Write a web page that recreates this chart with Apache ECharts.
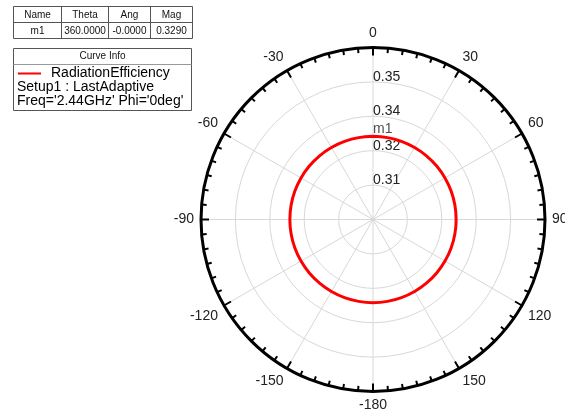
<!DOCTYPE html>
<html>
<head>
<meta charset="utf-8">
<script src="https://cdn.jsdelivr.net/npm/echarts@6/dist/echarts.min.js"></script>
<style>
  html, body { margin: 0; padding: 0; background: #fff; }
  #chart { width: 565px; height: 415px; }
</style>
</head>
<body>
<div id="chart"></div>
<script>
// Radiation efficiency vs. theta (degrees), Phi = 0deg cut
const thetaDeg = [0, 10, 20, 30, 40, 50, 60, 70, 80, 90, 100, 110, 120, 130, 140, 150, 160, 170, 180,
                  190, 200, 210, 220, 230, 240, 250, 260, 270, 280, 290, 300, 310, 320, 330, 340, 350, 360];
const radiationEfficiency = [0.329, 0.329, 0.329, 0.329, 0.329, 0.329, 0.329, 0.329, 0.329, 0.329,
                             0.329, 0.329, 0.329, 0.329, 0.329, 0.329, 0.329, 0.329, 0.329, 0.329,
                             0.329, 0.329, 0.329, 0.329, 0.329, 0.329, 0.329, 0.329, 0.329, 0.329,
                             0.329, 0.329, 0.329, 0.329, 0.329, 0.329, 0.329];

// Marker m1
const markerName = 'm1';
const markerTheta = 360;
const markerMag = 0.329;
const markerHeaders = ['Name', 'Theta', 'Ang', 'Mag'];
const markerCells = ['m1', '360.0000', '-0.0000', '0.3290'];

// Curve info legend
const curveName = 'RadiationEfficiency';
const curveInfoLines = ['Setup1 : LastAdaptive', "Freq='2.44GHz' Phi='0deg'"];

// Radial scale
const radiusMin = 0.30;
const radiusMax = 0.36;
const radiusStep = 0.012;

const FONT = "'Liberation Sans', Arial, sans-serif";
const CENTER = [373, 219.5];
const RADIUS = 172;

// --- tables drawn as graphic elements ---
const graphics = [];
const colX = [13.5, 61.5, 108.5, 150.5, 192.5];
const rowY = [6.5, 22.5, 38.5];
graphics.push({ type: 'rect', shape: { x: colX[0], y: rowY[0], width: colX[4] - colX[0], height: rowY[2] - rowY[0] },
  style: { fill: '#fff', stroke: '#555', lineWidth: 1 } });
graphics.push({ type: 'line', shape: { x1: colX[0], y1: rowY[1], x2: colX[4], y2: rowY[1] }, style: { stroke: '#555', lineWidth: 1 } });
for (let i = 1; i < 4; i++) {
  graphics.push({ type: 'line', shape: { x1: colX[i], y1: rowY[0], x2: colX[i], y2: rowY[2] }, style: { stroke: '#555', lineWidth: 1 } });
}
for (let i = 0; i < 4; i++) {
  const cx = (colX[i] + colX[i + 1]) / 2;
  graphics.push({ type: 'text', style: { text: markerHeaders[i], x: cx, y: (rowY[0] + rowY[1]) / 2 + 0.5,
    textAlign: 'center', textVerticalAlign: 'middle', font: '10px ' + FONT, fill: '#111' } });
  graphics.push({ type: 'text', style: { text: markerCells[i], x: cx, y: (rowY[1] + rowY[2]) / 2 + 0.5,
    textAlign: 'center', textVerticalAlign: 'middle', font: '10px ' + FONT, fill: '#111' } });
}

// Curve info box
graphics.push({ type: 'rect', shape: { x: 13.5, y: 48.5, width: 178, height: 62 },
  style: { fill: '#fff', stroke: '#555', lineWidth: 1 } });
graphics.push({ type: 'line', shape: { x1: 13.5, y1: 64.5, x2: 191.5, y2: 64.5 }, style: { stroke: '#999', lineWidth: 1 } });
graphics.push({ type: 'text', style: { text: 'Curve Info', x: 102.5, y: 56.5, textAlign: 'center', textVerticalAlign: 'middle',
  font: '10px ' + FONT, fill: '#111' } });
graphics.push({ type: 'line', shape: { x1: 18, y1: 73.5, x2: 41, y2: 73.5 }, style: { stroke: '#ff0000', lineWidth: 2 } });
graphics.push({ type: 'text', style: { text: curveName, x: 51, y: 73.5, textAlign: 'left', textVerticalAlign: 'middle',
  font: '14px ' + FONT, fill: '#000' } });
curveInfoLines.forEach((t, i) => {
  graphics.push({ type: 'text', style: { text: t, x: 17, y: 87.5 + i * 14, textAlign: 'left', textVerticalAlign: 'middle',
    font: '14px ' + FONT, fill: '#000' } });
});

const chart = echarts.init(document.getElementById('chart'), null, { renderer: 'canvas' });
chart.setOption({
  animation: false,
  backgroundColor: '#fff',
  // polar 0: grid, labels and data; polar 1: overlay carrying the black rim and its ticks
  polar: [
    { center: CENTER, radius: RADIUS },
    { center: CENTER, radius: RADIUS }
  ],
  angleAxis: [
    {
      polarIndex: 0,
      type: 'value',
      min: 0,
      max: 360,
      interval: 30,
      startAngle: 90,
      clockwise: true,
      z: 1,
      axisLine: { show: false },
      axisTick: { show: false },
      axisLabel: {
        margin: 7,
        fontSize: 14,
        fontFamily: FONT,
        color: '#222',
        formatter: v => (v >= 360 ? '' : String(v >= 180 ? v - 360 : v))
      },
      splitLine: { show: true, lineStyle: { color: '#d8d8d8', width: 1 } }
    },
    {
      polarIndex: 1,
      type: 'value',
      min: 0,
      max: 360,
      interval: 30,
      startAngle: 90,
      clockwise: true,
      z: 8,
      axisLine: { show: true, lineStyle: { color: '#000', width: 3 } },
      axisTick: { show: true, inside: true, length: 8, lineStyle: { color: '#000', width: 2 } },
      minorTick: { show: true, splitNumber: 6, length: 5, lineStyle: { color: '#000', width: 2 } },
      axisLabel: { show: false },
      splitLine: { show: false }
    }
  ],
  radiusAxis: [
    {
      polarIndex: 0,
      type: 'value',
      min: radiusMin,
      max: radiusMax,
      interval: radiusStep,
      z: 1,
      axisLine: { show: false },
      axisTick: { show: false },
      axisLabel: {
        fontSize: 14,
        lineHeight: 10,
        fontFamily: FONT,
        color: '#222',
        align: 'left',
        verticalAlign: 'bottom',
        margin: 0,
        formatter: v => (v <= radiusMin + 1e-6 || v >= radiusMax - 1e-6 ? '' : v.toFixed(2))
      },
      splitLine: { show: true, lineStyle: { color: '#d8d8d8', width: 1 } }
    },
    {
      polarIndex: 1,
      type: 'value',
      min: radiusMin,
      max: radiusMax,
      show: false
    }
  ],
  series: [
    {
      type: 'line',
      coordinateSystem: 'polar',
      polarIndex: 0,
      name: curveName,
      data: thetaDeg.map((t, i) => [radiationEfficiency[i], t]),
      showSymbol: false,
      smooth: 0.4,
      lineStyle: { color: '#ff0000', width: 3 },
      z: 3
    },
    {
      type: 'scatter',
      coordinateSystem: 'polar',
      polarIndex: 0,
      data: [[markerMag, markerTheta]],
      symbolSize: 0,
      label: {
        show: true,
        formatter: markerName,
        position: [0, -7],
        align: 'left',
        verticalAlign: 'middle',
        fontSize: 14,
        fontFamily: FONT,
        color: '#222'
      },
      z: 6
    }
  ],
  graphic: graphics
});
</script>
</body>
</html>
